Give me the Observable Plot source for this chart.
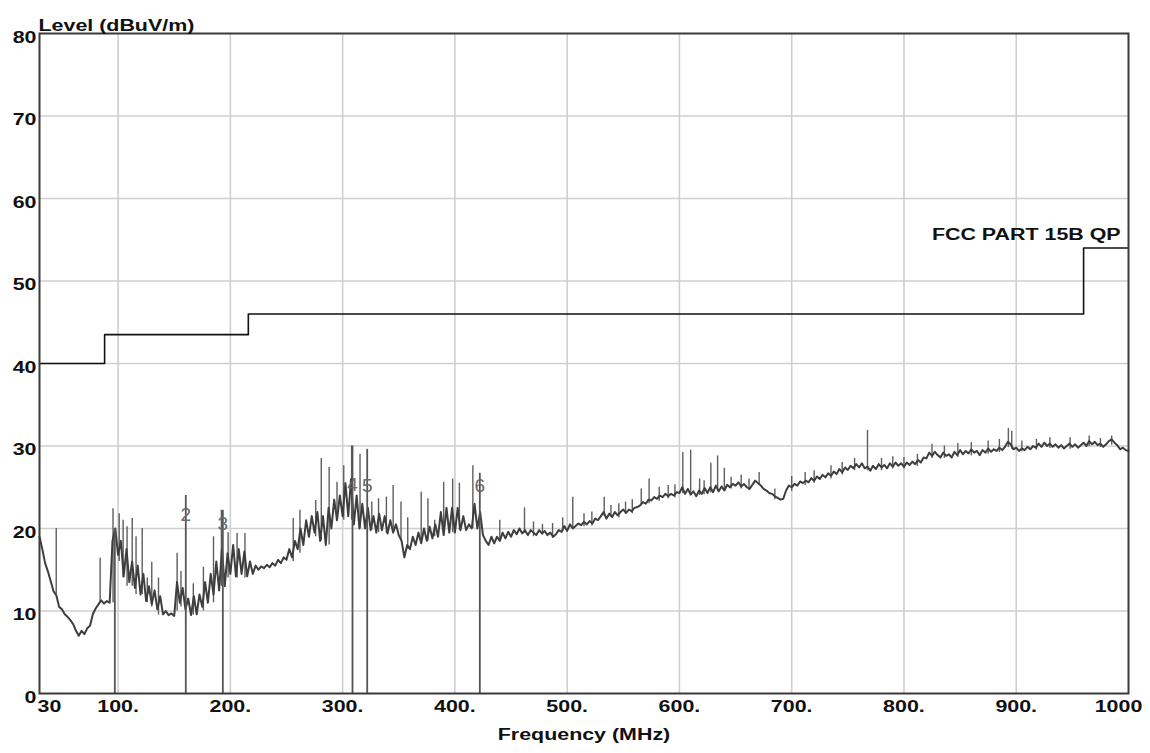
<!DOCTYPE html>
<html>
<head>
<meta charset="utf-8">
<script src="https://cdn.jsdelivr.net/npm/d3@7"></script>
<script src="https://cdn.jsdelivr.net/npm/@observablehq/plot@0.6"></script>
<style>
  html, body { margin: 0; padding: 0; background: #fff; }
  #chart { width: 1150px; height: 753px; }
</style>
</head>
<body>
<div id="chart"></div>
<script>
// ---- Data ----
const freqStart = 30;      // MHz, first trace sample
const freqStep = 2.5;      // MHz between trace samples
// Measured level (dBuV/m), one line = 25 MHz
const levels = [
  19, 17.5, 15.8, 14.8, 13.6, 12.4, 11.9, 10.5, 10.2, 9.6,          // 30
  9.3, 8.9, 8.4, 7.6, 7.0, 7.6, 7.2, 7.9, 8.2, 9.6,                 // 55
  10.3, 10.8, 11.3, 10.9, 11.2, 11.0, 18.5, 20, 16.8, 18.5,         // 80
  14.2, 17.5, 13.5, 16, 12.8, 15.5, 12, 14.5, 11.2, 13,             // 105
  10.8, 12.5, 10.2, 11.8, 9.6, 10, 9.5, 9.7, 9.4, 13.5,             // 130
  11, 12.8, 10.2, 11.5, 9.5, 11.8, 9.6, 12, 10.5, 13.5,             // 155
  11, 14.5, 12, 16, 12.5, 17.5, 13, 17, 14.5, 18,                   // 180
  14.2, 17.5, 14.5, 17.2, 14.2, 16, 14.5, 15.5, 15, 15.4,           // 205
  15.2, 15.6, 15.3, 15.8, 15.5, 16.2, 15.8, 16.5, 16.2, 17.5,       // 230
  16.5, 18.5, 17.5, 20, 18, 21, 19, 21.5, 19.5, 22,                 // 255
  18.5, 21.5, 18, 22.5, 20, 23.5, 21, 24, 21.5, 25.5,               // 280
  21.5, 26, 20.5, 24, 20, 23, 20, 22.5, 19.8, 21.5,                 // 305
  19.5, 21.8, 19.8, 21.5, 19.4, 21, 19.5, 20.5, 19.2, 18.5,         // 330
  16.5, 18, 17.5, 19, 18, 19.5, 18.2, 20, 18.5, 20.2,               // 355
  18.8, 20.5, 19, 22, 19.2, 22.5, 19.5, 22.5, 19.5, 22.5,           // 380
  19.8, 21.5, 19.8, 20.5, 20, 23, 20, 22, 19.2, 18.5,               // 405
  18, 19, 18.2, 19, 18.5, 19.5, 18.8, 19.6, 19, 19.8,               // 430
  19.3, 20, 19.4, 19.8, 19.2, 19.8, 19.5, 19.2, 19.8, 19.4,         // 455
  19.7, 19.2, 19.5, 19, 19.3, 19.8, 19.6, 20.3, 19.7, 20.5,         // 480
  20, 20.3, 20.6, 20.4, 20.8, 20.5, 20.9, 20.6, 21.2, 21,           // 505
  21.5, 22, 21.2, 21.8, 21.4, 22, 21.6, 22, 22.3, 21.9,             // 530
  22.3, 22.1, 22.5, 22.6, 22.8, 23.2, 23, 23.5, 23.4, 23.8,         // 555
  23.6, 24, 23.8, 24.2, 23.9, 24.2, 24, 24.4, 24.3, 25,             // 580
  24.2, 24.8, 24.1, 24.5, 23.9, 24.6, 24.2, 24.9, 24.3, 25,         // 605
  24.4, 25.2, 24.5, 25.1, 24.6, 25.3, 25, 25.4, 25.2, 25.6,         // 630
  25.1, 25.4, 25, 24.8, 25.3, 25.8, 25.5, 25.2, 24.8, 24.6,         // 655
  24.3, 24.2, 23.9, 23.7, 23.5, 23.6, 24.6, 25.2, 25, 25.4,         // 680
  25.2, 25.7, 25.5, 25.8, 25.6, 26.1, 25.8, 26.3, 26, 26.5,         // 705
  26.2, 26.7, 26.4, 26.9, 26.6, 27.2, 26.8, 27.4, 27.1, 27.6,       // 730
  27.3, 27.8, 27.4, 27.9, 27.3, 27.5, 27, 27.6, 27.2, 27.8,         // 755
  27.4, 27.7, 27.3, 27.9, 27.5, 28, 27.6, 27.9, 27.5, 28,           // 780
  27.7, 28.1, 27.8, 28.3, 28, 28.6, 28.5, 29.2, 28.8, 29.3,         // 805
  28.9, 28.6, 29.2, 28.8, 29, 28.6, 29.3, 28.9, 29.5, 29,           // 830
  29.4, 29.1, 29.6, 29.2, 29.4, 28.9, 29.5, 29.2, 29.7, 29.3,       // 855
  29.6, 29.4, 29.8, 29.5, 29.9, 30.5, 30.2, 29.6, 29.8, 29.4,       // 880
  29.7, 29.5, 29.9, 29.6, 30, 29.8, 30.3, 29.9, 30.4, 30,           // 905
  30.3, 29.9, 30.2, 29.8, 30.1, 29.7, 30, 30.3, 29.9, 30.2,         // 930
  29.8, 30.1, 30.4, 30, 30.6, 30.2, 30.5, 30.1, 30.3, 29.9,         // 955
  30.2, 30.6, 30.8, 30.4, 30.1, 29.6, 29.8, 29.5, 29.4              // 980
];

// Narrow spikes of the spectrum: frequency, base level, peak level
const spikeFreq = [44.9, 84, 95.5, 101, 104.5, 108, 112.6, 116, 121.5, 126, 130, 136, 152.6, 156, 167, 176, 185, 192, 198, 206, 213, 256, 262, 276, 281, 288, 295, 301, 308, 315.5, 326, 332, 339, 345, 352, 358, 370, 376, 382, 390, 398, 404, 416, 440, 462, 496, 505, 533, 539, 566, 573, 603, 610, 628, 634, 640, 671, 767.5, 893, 896,
  470, 478, 487, 515, 522, 546, 552, 558, 582, 590, 596, 618, 622, 646, 655, 662, 685, 700, 712, 720, 735, 745, 756, 780, 790, 800, 812, 825, 836, 848, 860, 875, 885, 905, 918, 930, 948, 965, 975, 985];
const spikeLow  = [12, 11, 11, 16, 14, 13, 13, 12, 12, 11, 10.5, 9.5, 10, 10.5, 9.5, 10, 11, 13, 14, 14, 14, 16, 17, 19, 18.5, 18, 21, 21, 21, 20, 19.8, 19.5, 19.4, 19.5, 18.5, 17.5, 18.2, 18.5, 19, 19.2, 19.5, 19.8, 20, 18.5, 19.4, 19.6, 20, 21.5, 21.4, 22.8, 23, 24.2, 24, 24.3, 24.5, 24.6, 25.2, 27, 29.8, 29.6,
  19, 19.2, 18.8, 20.2, 20.3, 21.3, 21.7, 21.8, 23.3, 23.6, 23.7, 24, 24.1, 24.8, 24.8, 24.6, 23.5, 24.5, 25.2, 25.5, 26, 26.5, 27, 27, 27.2, 27.2, 27.5, 28.5, 28.5, 28.6, 28.8, 29, 29.2, 29.3, 29.5, 29.7, 29.6, 29.9, 29.8, 30.1];
const spikeHigh = [20, 16.4, 22.4, 21.8, 21, 20.2, 21.2, 19, 20, 14, 15.9, 14, 17, 14.8, 13.3, 15.3, 19, 22.2, 19.5, 19.4, 19.4, 21.2, 22.2, 23.4, 28.5, 27.4, 25.6, 27.6, 30, 29, 23.2, 23.6, 23.8, 25.2, 23.2, 21.3, 24.4, 23.6, 21, 25.6, 26, 25.5, 27.6, 21, 22.5, 21.3, 23.8, 23.8, 22.8, 24.8, 26, 29.2, 29.5, 27.9, 28.8, 27.3, 26.8, 31.9, 32.1, 31.8,
  20.8, 20.5, 20.6, 21.8, 22, 23, 23.2, 23.5, 25, 25.2, 25.3, 26, 25.8, 26.2, 26.5, 26, 24.8, 26.3, 26.8, 27, 27.6, 28, 28.5, 28.5, 28.7, 28.6, 29, 30.2, 30, 30.3, 30.4, 30.6, 30.8, 30.6, 30.8, 31, 31, 31.2, 30.9, 31.2];

// Numbered peak markers
const markerFreq  = [97.1, 160.3, 193.3, 308.8, 321.9, 422.2];
const markerLevel = [20, 24, 22.2, 30, 29.6, 26.7];
const markerLabel = ["", "2", "3", "4", "5", "6"];
const markerLabelLevel = [21, 21.6, 20.6, 25.3, 25.2, 25.2];

// FCC Part 15B QP limit (step after each frequency)
const limitFreq  = [30, 88, 216, 960, 1000];
const limitLevel = [40, 43.5, 46, 54, 54];
const limitName = "FCC PART 15B QP";

// Axis ticks
const yTicks = [0, 10, 20, 30, 40, 50, 60, 70, 80];
const xGrid = [100, 200, 300, 400, 500, 600, 700, 800, 900];
const xTickMid = [100, 200, 300, 400, 500, 600, 700, 800, 900];
const xTickMidLabels = ["100.", "200.", "300.", "400.", "500.", "600.", "700.", "800.", "900."];
const yGrid = [10, 20, 30, 40, 50, 60, 70];

// ---- Build tables ----
const trace = levels.map((v, i) => ({f: freqStart + i * freqStep, v}));
const spikes = spikeFreq.map((f, i) => ({f, lo: spikeLow[i], hi: spikeHigh[i]}));
const markers = markerFreq.map((f, i) => ({f, top: markerLevel[i], label: markerLabel[i], ly: markerLabelLevel[i]}));
const limit = limitFreq.map((f, i) => ({f, v: limitLevel[i]}));
const xMid = xTickMid.map((t, i) => ({t, label: xTickMidLabels[i]}));

const font = "'Liberation Sans', Arial, Helvetica, sans-serif";
const markerInk = "#6a6a6a";

const chart = Plot.plot({
  width: 1150,
  height: 753,
  marginLeft: 39,
  marginRight: 22,
  marginTop: 33,
  marginBottom: 60,
  x: {domain: [30, 1000], axis: null},
  y: {domain: [0, 80], axis: null},
  style: {fontFamily: font, background: "#fff", overflow: "visible"},
  marks: [
    Plot.ruleX(xGrid, {stroke: "#cfcfcf", strokeWidth: 1.6}),
    Plot.ruleY(yGrid, {stroke: "#cfcfcf", strokeWidth: 1.6}),
    Plot.line(limit, {x: "f", y: "v", curve: "step-after", stroke: "#111", strokeWidth: 1.6}),
    Plot.ruleX(spikes, {x: "f", y1: "lo", y2: "hi", stroke: "#5e5e5e", strokeWidth: 1.4}),
    Plot.line(trace, {x: "f", y: "v", stroke: "#3e3e3e", strokeWidth: 2}),
    Plot.ruleX(markers, {x: "f", y1: 0, y2: "top", stroke: "#555", strokeWidth: 1.8}),
    Plot.text(markers, {x: "f", y: "ly", text: "label", fill: markerInk, fontSize: 19, textAnchor: "middle"}),
    Plot.frame({stroke: "#3a3a3a", strokeWidth: 2}),
    // limit label
    Plot.text([limitName], {x: 993, y: 55.6, text: d => d, textAnchor: "end", fontWeight: "bold", fontSize: 17, fill: "#111"}),
    // y tick labels
    Plot.text(yTicks, {y: d => d, text: d => String(d), frameAnchor: "left", textAnchor: "end", dx: -3, dy: 4, fontWeight: "bold", fontSize: 17, fill: "#111"}),
    // x tick labels
    Plot.text(xMid, {x: "t", text: "label", frameAnchor: "bottom", dy: 18, fontWeight: "bold", fontSize: 17, fill: "#111"}),
    Plot.text(["30"], {x: 30, text: d => d, frameAnchor: "bottom", textAnchor: "start", dx: -2, dy: 18, fontWeight: "bold", fontSize: 17, fill: "#111"}),
    Plot.text(["1000"], {x: 1000, text: d => d, frameAnchor: "bottom", textAnchor: "middle", dx: -10, dy: 18, fontWeight: "bold", fontSize: 17, fill: "#111"}),
    // axis titles
    Plot.text(["Frequency (MHz)"], {text: d => d, frameAnchor: "bottom", dy: 46, fontWeight: "bold", fontSize: 17, fill: "#111"}),
    Plot.text(["Level (dBuV/m)"], {text: d => d, frameAnchor: "top-left", textAnchor: "start", dx: -1, dy: -15, fontWeight: "bold", fontSize: 17, fill: "#111"})
  ]
});

// The reference lettering is horizontally stretched: widen each bold text about its own anchor.
// Only the horizontal direction is scaled, so the vertical offset (which may be in em) is untouched.
chart.querySelectorAll("text").forEach(t => {
  const g = t.closest("g");
  if (g && g.getAttribute("fill") === markerInk) return; // marker numbers keep normal proportions
  const x = parseFloat(t.getAttribute("x")) || 0;
  const tr = t.getAttribute("transform") || "";
  t.setAttribute("transform", `${tr} translate(${x},0) scale(1.26,1) translate(${-x},0)`);
});

document.getElementById("chart").appendChild(chart);
</script>
</body>
</html>
